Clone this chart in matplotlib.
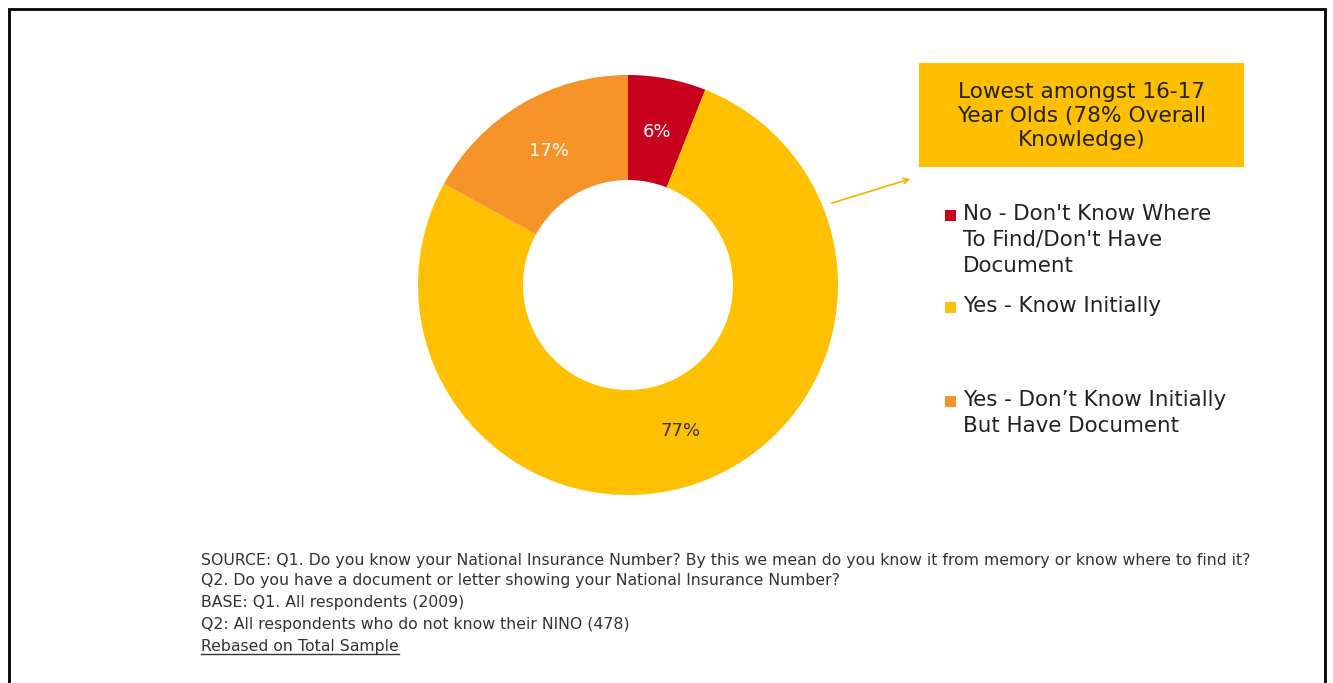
import matplotlib.pyplot as plt
from matplotlib.patches import Rectangle

# data
labels = ["No - Don't Know Where\nTo Find/Don't Have\nDocument",
          "Yes - Know Initially",
          "Yes - Don\u2019t Know Initially\nBut Have Document"]
values = [6, 77, 17]
colors = ["#C8001E", "#FFC000", "#F59228"]
pct_colors = ["white", "#333333", "white"]

callout = "Lowest amongst 16-17\nYear Olds (78% Overall\nKnowledge)"
notes = ["SOURCE: Q1. Do you know your National Insurance Number? By this we mean do you know it from memory or know where to find it?",
         "Q2. Do you have a document or letter showing your National Insurance Number?",
         "BASE: Q1. All respondents (2009)",
         "Q2: All respondents who do not know their NINO (478)",
         "Rebased on Total Sample"]

W, H = 1333, 683
fig = plt.figure(figsize=(W / 100, H / 100), dpi=100)
ax = fig.add_axes([0, 0, 1, 1])
ax.set_aspect("equal")
ax.axis("off")

def Y(y):
    return H - y

# frame
ax.add_patch(Rectangle((8.5, -10), 1316, Y(8.5) + 10, fill=False, ec="black", lw=2))

# donut
wedges, _, autotexts = ax.pie(values, colors=colors, startangle=90, counterclock=False,
                              center=(628, Y(285)), radius=210, autopct="%d%%",
                              pctdistance=0.74, wedgeprops=dict(width=105, lw=0),
                              textprops=dict(fontsize=13))
for t, c in zip(autotexts, pct_colors):
    t.set_color(c)
ax.set_xlim(0, W)
ax.set_ylim(0, H)

# callout box
ax.add_patch(Rectangle((919, Y(167)), 325, 104, fc="#FDBF00", ec="none"))
ax.text(1082, Y(116), callout, ha="center", va="center", fontsize=15.6,
        color="#222222", linespacing=1.28)
ax.annotate("", xy=(913, Y(178)), xytext=(829, Y(204)),
            arrowprops=dict(arrowstyle="->", color="#F2B400", lw=1.2))

# legend, first line of each entry at leg_y
leg_y = [215, 307, 401]
for lab, c, y in zip(labels, colors, leg_y):
    ax.add_patch(Rectangle((945, Y(y) - 5.5), 11, 11, fc=c, ec="none"))
    ax.text(963, Y(y) + 11, lab, ha="left", va="top", fontsize=15.4,
            color="#222222", linespacing=1.36)

# footnotes
note_y = [560, 581, 603, 625, 647]
for s, y in zip(notes, note_y):
    ax.text(201, Y(y), s, ha="left", va="center", fontsize=11.3, color="#333333")

fig.canvas.draw()
r = fig.canvas.get_renderer()
bb = ax.texts[-1].get_window_extent(r)
ax.plot([bb.x0, bb.x1], [bb.y0 + 1, bb.y0 + 1], color="#333333", lw=1)

fig.savefig("out.png", dpi=100)
